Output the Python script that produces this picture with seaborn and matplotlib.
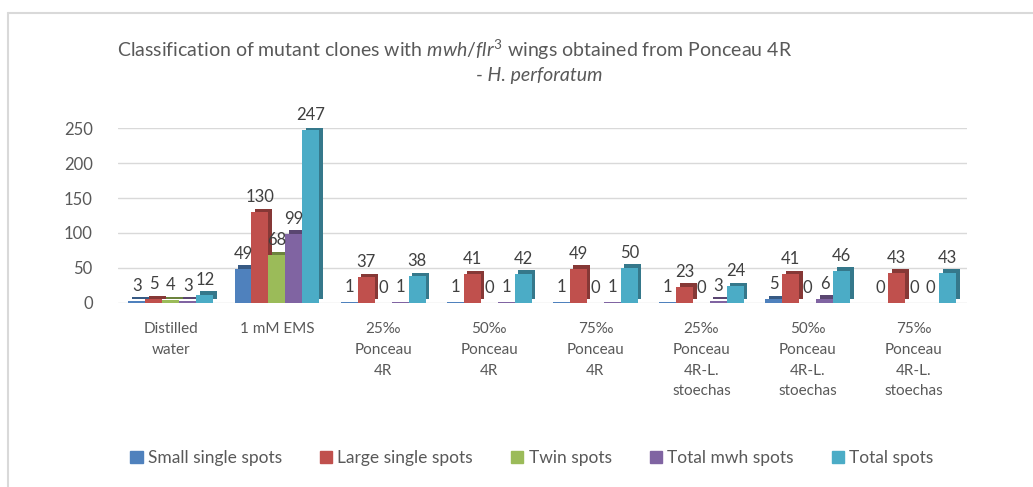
import pandas as pd
import numpy as np
import matplotlib.pyplot as plt
import matplotlib.patheffects as pe
from matplotlib.lines import Line2D
from matplotlib.colors import to_rgb
import seaborn as sns

# ---------------- 데이터 ----------------
groups = ['Distilled\nwater', '1 mM EMS', '25‰\nPonceau\n4R', '50‰\nPonceau\n4R',
          '75‰\nPonceau\n4R', '25‰\nPonceau\n4R-L.\nstoechas',
          '50‰\nPonceau\n4R-L.\nstoechas', '75‰\nPonceau\n4R-L.\nstoechas']
series = ['Small single spots', 'Large single spots', 'Twin spots',
          'Total mwh spots', 'Total spots']

small_single = [3, 49, 1, 1, 1, 1, 5, 0]
large_single = [5, 130, 37, 41, 49, 23, 41, 43]
twin_spots = [4, 68, 0, 0, 0, 0, 0, 0]
total_mwh = [3, 99, 1, 1, 1, 3, 6, 0]
total_spots = [12, 247, 38, 42, 50, 24, 46, 43]

yticks = [0, 50, 100, 150, 200, 250]
colors = ['#4F81BD', '#C0504D', '#9BBB59', '#8064A2', '#4BACC6']

values = [small_single, large_single, twin_spots, total_mwh, total_spots]
rows = []
for s, vals in zip(series, values):
    for g, v in zip(groups, vals):
        rows.append({'group': g, 'series': s, 'value': v})
df = pd.DataFrame(rows)

# ---------------- 그래프 ----------------
sns.set_style('white')
plt.rcParams['font.family'] = ['Lato', 'DejaVu Sans']
plt.rcParams['mathtext.fontset'] = 'custom'
plt.rcParams['mathtext.rm'] = 'Lato'
plt.rcParams['mathtext.it'] = 'Lato:italic'

txt = '#595959'
fig = plt.figure(figsize=(10.33, 4.87), dpi=100)
ax = fig.add_axes([0.114, 0.378, 0.822, 0.359])

sns.barplot(data=df, x='group', y='value', hue='series', palette=colors,
            width=0.8, saturation=1, ax=ax, legend=False, linewidth=0)

# 3D 느낌 (어두운 옆면)
for i, cont in enumerate(ax.containers):
    dark = tuple(c * 0.7 for c in to_rgb(colors[i]))
    for bar in cont:
        bar.set_linewidth(0)
        bar.set_path_effects([pe.SimplePatchShadow(offset=(2.5, 2.5), shadow_rgbFace=dark, alpha=1),
                              pe.Normal()])
    ax.bar_label(cont, padding=5, fontsize=12, color='#404040')

ax.set_ylim(0, 250)
ax.set_yticks(yticks)
ax.yaxis.grid(True, color='#D9D9D9', linewidth=1)
ax.set_axisbelow(True)
for sp in ax.spines.values():
    sp.set_visible(False)
ax.set_xlabel('')
ax.set_ylabel('')
ax.tick_params(axis='y', labelsize=12, labelcolor=txt, length=0, pad=18)
ax.tick_params(axis='x', labelsize=11, labelcolor=txt, length=0, pad=14)
for lab in ax.get_xticklabels():
    lab.set_linespacing(1.6)
ax.set_xlim(-0.5, len(groups) - 0.5)

fig.text(0.44, 0.898,
         r'Classification of mutant clones with $mwh/flr^3$ wings obtained from Ponceau 4R',
         ha='center', va='center', fontsize=14, color=txt)
fig.text(0.522, 0.845, '- H. perforatum', ha='center', va='center', fontsize=14,
         color=txt, style='italic')

handles = [plt.Rectangle((0, 0), 1, 1, color=c) for c in colors]
fig.legend(handles, series, loc='center', bbox_to_anchor=(0.515, 0.06), ncol=5,
           frameon=False, handlelength=0.7, handleheight=0.7, handletextpad=0.3,
           columnspacing=2.2, fontsize=12.5, labelcolor=txt)

# 테두리
fig.add_artist(Line2D([0.008, 1], [0.973, 0.973], transform=fig.transFigure,
                      color='#D9D9D9', linewidth=1.5))
fig.add_artist(Line2D([0.008, 0.008], [0, 0.973], transform=fig.transFigure,
                      color='#D9D9D9', linewidth=1.5))

plt.savefig('out.png', dpi=100)
